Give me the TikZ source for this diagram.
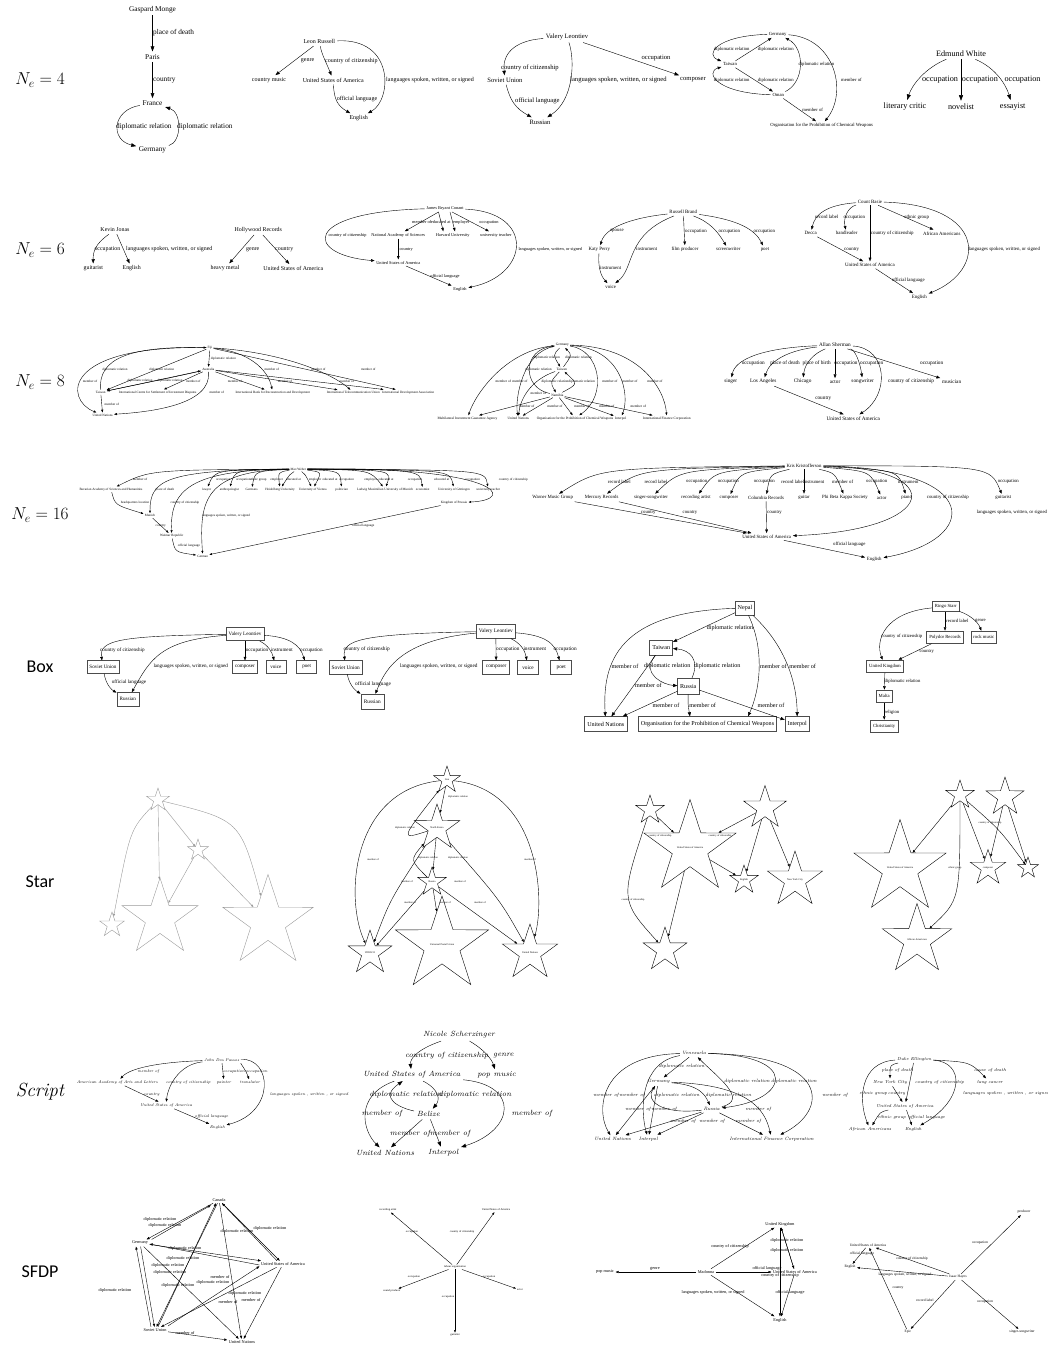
\documentclass[tikz,border=0pt]{standalone}
\usepackage{fontspec}
\setmainfont{Liberation Serif}
\newfontfamily\rowsans{Carlito}
\newfontfamily\scrfont{Latin Modern Roman}
\usetikzlibrary{arrows.meta,shapes.geometric}
\newcommand\fsz[1]{\fontsize{#1}{#1}\selectfont}
\begin{document}
\begin{tikzpicture}[x=1pt,y=-1pt,line width=0.4pt,
  e/.style={->},
  lw/.style={inner sep=0pt,anchor=west},
  lc/.style={inner sep=0pt},
  bx/.style={draw=black!70,line width=0.6pt,inner xsep=2.5pt,inner ysep=0pt,minimum height=12.5pt},
  st/.style={draw,star,star points=5,star point ratio=2.6,inner sep=0pt},
  rowlab/.style={font=\rowsans\fsz{18}},
  g1/.style={font=\fsz{#1},every node/.append style={inner sep=0.35*#1}}
]
\useasboundingbox (0,0) rectangle (1048,1346);

% ---------------- row labels
\node[font=\fsz{17}] (r1) at (40,80) {$N_e=4$};
\node[font=\fsz{17}] (r2) at (40,250) {$N_e=6$};
\node[font=\fsz{17}] (r3) at (40,382) {$N_e=8$};
\node[font=\fsz{17}] (r4) at (40,515) {$N_e=16$};
\node[rowlab] (r5) at (40,667) {Box};
\node[rowlab] (r6) at (40,882) {Star};
\node[font=\scrfont\itshape\fsz{19}] (r7) at (40,1092) {Script};
\node[rowlab] (r8) at (40,1272) {SFDP};

% ================= ROW 1
\begin{scope}[g1=7.3,>={Triangle[length=5pt,width=3.6pt]}]
\node (gm) at (152.5,9.3) {Gaspard Monge};
\node (pa) at (152.5,56.7) {Paris};
\node (fr) at (152.5,103.3) {France};
\node (ge) at (152.5,150) {Germany};
\draw[e] (gm) -- (pa); \node[lw] at (153,33) {place of death};
\draw[e] (pa) -- (fr); \node[lw] at (153,80) {country};
\draw[e] (fr) .. controls (112,110) and (110,140) .. (ge);
\node[lw] at (116,127) {diplomatic relation};
\draw[e] (ge) .. controls (182,142) and (182,112) .. (fr);
\node[lw] at (177,127) {diplomatic relation};
\end{scope}

\begin{scope}[g1=6,>={Triangle[length=4.2pt,width=3.2pt]}]
\node (lr) at (319.3,41.7) {Leon Russell};
\node (cm) at (269,80) {country music};
\node (us1) at (333.3,80) {United States of America};
\node (en1) at (358.7,118.3) {English};
\draw[e] (lr) -- (cm); \node[lw] at (300.7,61) {genre};
\draw[e] (lr) .. controls (322,55) and (326,62) .. (us1); \node[lw] at (325,61) {country of citizenship};
\draw[e] (us1) .. controls (334,100) and (338,106) .. (en1); \node[lw] at (336.7,99.5) {official language};
\draw[e] (lr) .. controls (395,38) and (392,100) .. (en1); \node[lw] at (386,80) {languages spoken, written, or signed};
\end{scope}

\begin{scope}[g1=6.6,>={Triangle[length=4.5pt,width=3.4pt]}]
\node (vl) at (567,37) {Valery Leontiev};
\node (su) at (505,80) {Soviet Union};
\node (co) at (693,80) {composer};
\node (ru) at (540,122) {Russian};
\draw[e] (vl) .. controls (520,40) and (502,50) .. (su); \node[lw] at (501,68) {country of citizenship};
\draw[e] (vl) .. controls (575,60) and (574,100) .. (ru); \node[lw] at (570,80) {languages spoken, written, or signed};
\draw[e] (su) .. controls (510,100) and (515,108) .. (ru); \node[lw] at (515,100.7) {official language};
\draw[e] (vl) -- (co); \node[lc] at (656,58) {occupation};
\end{scope}

\begin{scope}[g1=4.7,>={Triangle[length=3.6pt,width=2.7pt]}]
\node (g4) at (777.7,34) {Germany};
\node (t4) at (730,64.3) {Taiwan};
\node (o4) at (778.3,95) {Oman};
\node (op4) at (821.7,125.3) {Organisation for the Prohibition of Chemical Weapons};
\draw[e] (g4) .. controls (715,36) and (705,55) .. (t4); \node[lc] at (731.7,49.3) {diplomatic relation};
\draw[e] (t4) -- (g4); \node[lc] at (775.8,49.3) {diplomatic relation};
\draw[e] (t4) -- (o4); \node[lc] at (775.8,80) {diplomatic relation};
\draw[e] (o4) .. controls (715,93) and (705,72) .. (t4); \node[lc] at (731.7,80) {diplomatic relation};
\draw[e] (o4) .. controls (805,82) and (805,48) .. (g4); \node[lw] at (798.3,64.3) {diplomatic relation};
\draw[e] (g4) .. controls (835,38) and (848,92) .. (op4); \node[lw] at (841,80) {member of};
\draw[e] (o4) -- (op4); \node[lc] at (812.7,110) {member of};
\end{scope}

\begin{scope}[g1=8.2,>={Triangle[length=5.5pt,width=4pt]}]
\node (ew) at (961,53.3) {Edmund White};
\node (lcr) at (905,106.7) {literary critic};
\node (nv) at (961,106.7) {novelist};
\node (es) at (1012.7,106.7) {essayist};
\draw[e] (ew) .. controls (925,68) and (912,85) .. (lcr); \node[lc] at (940,80) {occupation};
\draw[e] (ew) -- (nv); \node[lw] at (961.7,80) {occupation};
\draw[e] (ew) .. controls (996,68) and (1006,85) .. (es); \node[lw] at (1004.3,80) {occupation};
\end{scope}

% ================= ROW 2
\begin{scope}[g1=5.9,>={Triangle[length=4.2pt,width=3.2pt]}]
\node (kj) at (115,230) {Kevin Jonas};
\node (gu) at (93.3,268.3) {guitarist};
\node (en2) at (131.7,268.3) {English};
\draw[e] (kj) .. controls (95,244) and (93,252) .. (gu); \node[lw] at (94.3,249.3) {occupation};
\draw[e] (kj) -- (en2); \node[lw] at (126,249.3) {languages spoken, written, or signed};
\node (hr) at (258.3,230) {Hollywood Records};
\node (hm) at (225,268.3) {heavy metal};
\node (us2) at (293.3,268.3) {United States of America};
\draw[e] (hr) -- (hm); \node[lw] at (246,249.3) {genre};
\draw[e] (hr) -- (us2); \node[lw] at (275,249.3) {country};
\end{scope}

\begin{scope}[g1=4.35,>={Triangle[length=3.4pt,width=2.6pt]}]
\node (jb) at (445,208.3) {James Bryant Conant};
\node (nas) at (398.3,235) {National Academy of Sciences};
\node (hu) at (452.7,235) {Harvard University};
\node (ut) at (496,235) {university teacher};
\node (us3) at (398.3,262.7) {United States of America};
\node (en3) at (460,289.3) {English};
\draw[e] (jb) .. controls (300,212) and (305,255) .. (us3); \node[lc] at (347.5,235) {country of citizenship};
\draw[e] (jb) -- (nas); \node[lc] at (421.7,222.3) {member of};
\draw[e] ([xshift=-6.5pt]jb.south) -- ([xshift=-9.4pt]hu.north); \node[lc] at (440.7,222.3) {educated at};
\draw[e] ([xshift=5pt]jb.south) -- ([xshift=2.3pt]hu.north); \node[lc] at (461.3,222.3) {employer};
\draw[e] (jb) -- (ut); \node[lc] at (489,222.3) {occupation};
\draw[e] (jb) .. controls (535,212) and (530,275) .. (en3); \node[lw] at (518.3,249.3) {languages spoken, written, or signed};
\draw[e] (nas) -- (us3); \node[lw] at (399.3,249.3) {country};
\draw[e] (us3) -- (en3); \node[lc] at (445,276) {official language};
\end{scope}

\begin{scope}[g1=4.9,>={Triangle[length=3.6pt,width=2.7pt]}]
\node (rb) at (683.3,212.3) {Russell Brand};
\node (kp) at (599.3,249.3) {Katy Perry};
\node (fp) at (685,249.3) {film producer};
\node (sw) at (728.3,249.3) {screenwriter};
\node (po) at (765,249.3) {poet};
\node (vo) at (610.7,286.7) {voice};
\draw[e] (rb) .. controls (630,218) and (605,228) .. (kp); \node[lc] at (617,231) {spouse};
\draw[e] (rb) .. controls (625,235) and (635,268) .. (vo); \node[lw] at (636,249.3) {instrument};
\draw[e] (rb) -- (fp); \node[lw] at (685,231) {occupation};
\draw[e] (rb) .. controls (710,222) and (718,232) .. (sw); \node[lw] at (718.3,231) {occupation};
\draw[e] (rb) .. controls (740,220) and (755,230) .. (po); \node[lw] at (753.3,231) {occupation};
\draw[e] (kp) .. controls (598,265) and (600,275) .. (vo); \node[lw] at (600,267.7) {instrument};

\node (cb) at (870,201.7) {Count Basie};
\node (dc) at (810.7,233.3) {Decca};
\node (bl) at (846.7,233.3) {bandleader};
\node (aa) at (941.7,233.3) {African Americans};
\node (us4) at (870,265) {United States of America};
\node (en4) at (919.3,297.3) {English};
\draw[e] (cb) .. controls (825,205) and (815,215) .. (dc); \node[lc] at (826.7,216.7) {record label};
\draw[e] (cb) .. controls (848,207) and (843,218) .. (bl); \node[lw] at (843.3,217.3) {occupation};
\draw[e] (cb) -- (us4); \node[lw] at (870.7,233.3) {country of citizenship};
\draw[e] (cb) -- (aa); \node[lc] at (916.7,217.3) {ethnic group};
\draw[e] (cb) .. controls (987,205) and (987,270) .. (en4); \node[lw] at (968.3,249.3) {languages spoken, written, or signed};
\draw[e] (dc) -- (us4); \node[lc] at (851.7,249.3) {country};
\draw[e] (us4) -- (en4); \node[lc] at (908.3,280.7) {official language};
\end{scope}

% ================= ROW 3
\begin{scope}[g1=3.3,>={Triangle[length=2.8pt,width=2.1pt]}]
\node (fj) at (210,347.7) {Fiji};
\node (au) at (208.3,369.3) {Australia};
\node (tw) at (100.7,392.3) {Taiwan};
\node (ic) at (157.7,392.3) {International Centre for Settlement of Investment Disputes};
\node (ib) at (272.7,392.3) {International Bank for Reconstruction and Development};
\node (itu) at (353.3,392.3) {International Telecommunication Union};
\node (ida) at (408.3,392.3) {International Development Association};
\node (un5) at (102.7,415) {United Nations};
\draw[e] (fj) -- (au); \node[lw] at (210.7,358.3) {diplomatic relation};
\draw[e] (fj) .. controls (60,345) and (65,400) .. (un5); \node[lc] at (90,381.7) {member of};
\draw[e] (tw) .. controls (98,358) and (130,346) .. (fj); \node[lc] at (115,369.7) {diplomatic relation};
\draw[e] (fj) -- (tw); \node[lc] at (161.7,369.7) {diplomatic relation};
\draw[e] (tw) -- (au); \node[lc] at (170,381) {diplomatic relation};
\draw[e] (au) .. controls (170,378) and (130,386) .. (tw); \node[lc] at (140,381) {diplomatic relation};
\draw[e] (au) -- (ic); \node[lc] at (193.3,381) {member of};
\draw[e] (au) .. controls (212,405) and (150,412) .. (un5); \node[lc] at (216.7,392.3) {member of};
\draw[e] (tw) -- (un5); \node[lc] at (111.7,404) {member of};
\draw[e] (au) -- (ib); \node[lc] at (235,381) {member of};
\draw[e] (au) -- (itu); \node[lc] at (285,381) {member of};
\draw[e] (au) -- (ida); \node[lc] at (346.7,381) {member of};
\draw[e] (fj) .. controls (250,352) and (268,370) .. (ib); \node[lc] at (271.7,369.7) {member of};
\draw[e] (fj) .. controls (280,352) and (330,372) .. (itu); \node[lc] at (318.3,369.7) {member of};
\draw[e] (fj) -- (ida); \node[lc] at (368.3,369.7) {member of};
\end{scope}

\begin{scope}[g1=3.5,>={Triangle[length=2.8pt,width=2.1pt]}]
\node (g8) at (562.3,345) {Germany};
\node (t8) at (561.7,369.3) {Taiwan};
\node (na) at (557.3,395) {Namibia};
\node (mi) at (467.5,418.3) {Multilateral Investment Guarantee Agency};
\node (un8) at (518.3,418.3) {United Nations};
\node (op8) at (575,418.3) {Organisation for the Prohibition of Chemical Weapons};
\node (ip8) at (620.7,418.3) {Interpol};
\node (ifc8) at (666.7,418.3) {International Finance Corporation};
\draw[e] (g8) .. controls (553,355) .. (t8); \node[lc] at (546.7,357.7) {diplomatic relation};
\draw[e] (t8) .. controls (572,355) .. (g8); \node[lc] at (578.3,357.7) {diplomatic relation};
\draw[e] (na) .. controls (522,388) and (522,350) .. (g8); \node[lc] at (538.3,369.3) {diplomatic relation};
\draw[e] (t8) .. controls (550,382) .. (na); \node[lc] at (555,381.7) {diplomatic relation};
\draw[e] (na) .. controls (578,384) .. (t8); \node[lc] at (581.7,381.7) {diplomatic relation};
\draw[e] (g8) .. controls (505,350) and (475,395) .. (mi); \node[lc] at (503.3,381.7) {member of};
\draw[e] (g8) .. controls (522,352) and (515,400) .. (un8); \node[lc] at (520,381.7) {member of};
\draw[e] (g8) .. controls (600,350) and (608,395) .. (op8); \node[lc] at (610,381.7) {member of};
\draw[e] (g8) .. controls (622,348) and (630,395) .. (ip8); \node[lc] at (630,381.7) {member of};
\draw[e] (g8) .. controls (640,346) and (665,390) .. (ifc8); \node[lc] at (655,381.7) {member of};
\draw[e] (t8) .. controls (530,380) and (520,400) .. (un8); \node[lc] at (538.3,393.3) {member of};
\draw[e] (na) -- (mi); \node[lc] at (526.7,406) {member of};
\draw[e] (na) -- (un8); \node[lc] at (555,406) {member of};
\draw[e] (na) -- (op8); \node[lc] at (581.7,406) {member of};
\draw[e] (na) -- (ip8); \node[lc] at (606.7,406) {member of};
\draw[e] (na) -- (ifc8); \node[lc] at (638.3,406) {member of};
\end{scope}

\begin{scope}[g1=5.26,>={Triangle[length=3.8pt,width=2.9pt]}]
\node (as) at (835,345) {Allan Sherman};
\node (si) at (730.7,381.7) {singer};
\node (la) at (763.3,381.7) {Los Angeles};
\node (ch) at (802.7,381.7) {Chicago};
\node (ac) at (835,381.7) {actor};
\node (sg) at (862.7,381.7) {songwriter};
\node (mu) at (951.7,381.7) {musician};
\node (us8) at (853.3,418.3) {United States of America};
\draw[e] (as) .. controls (760,348) and (735,360) .. (si); \node[lc] at (753.3,363.3) {occupation};
\draw[e] (as) .. controls (790,350) and (770,360) .. (la); \node[lc] at (785,363.3) {place of death};
\draw[e] (as) .. controls (815,353) and (805,362) .. (ch); \node[lc] at (816.7,363.3) {place of birth};
\draw[e] (as) -- (ac); \node[lc] at (846,363.3) {occupation};
\draw[e] (as) .. controls (855,350) and (860,362) .. (sg); \node[lc] at (871.7,363.3) {occupation};
\draw[e] (as) .. controls (888,348) and (890,395) .. (us8); \node[lw] at (888,381.7) {country of citizenship};
\draw[e] (as) -- (mu); \node[lc] at (931.7,363.3) {occupation};
\draw[e] (la) -- (us8); \node[lc] at (823.3,398.3) {country};
\end{scope}

% ================= ROW 4
\begin{scope}[g1=3.3,>={Triangle[length=2.6pt,width=2pt]}]
\node (mw) at (298.3,469) {Max Weber};
\node (ba) at (111,489.3) {Bavarian Academy of Sciences and Humanities};
\node (lwy) at (206.7,489.3) {lawyer};
\node (ant) at (229.3,489.3) {anthropologist};
\node (gms) at (251.7,489.3) {Germans};
\node (heu) at (280,489.3) {Heidelberg University};
\node (uvi) at (312.7,489.3) {University of Vienna};
\node (pol) at (341.7,489.3) {politician};
\node (lmu) at (385,489.3) {Ludwig Maximilian University of Munich};
\node (eco) at (422.7,489.3) {economist};
\node (ugo) at (454,489.3) {University of Göttingen};
\node (ute) at (488.3,489.3) {university teacher};
\node (mun) at (150,515.7) {Munich};
\node (kpr) at (454,502.7) {Kingdom of Prussia};
\node (wr) at (171.7,535.7) {Weimar Republic};
\node (gml) at (202.7,556) {German};
\draw[e] (mw) .. controls (150,470) .. (ba); \node[lc] at (140,479.3) {member of};
\draw[e] (mw) .. controls (165,470) and (150,480) .. (mun); \node[lc] at (165,489.3) {place of death};
\draw[e] (mw) .. controls (190,470) and (170,490) .. (wr); \node[lc] at (185,502.7) {country of citizenship};
\draw[e] (mw) .. controls (205,471) and (199,500) .. (gml); \node[lw] at (201.7,515.7) {languages spoken, written, or signed};
\draw[e] (mw) .. controls (500,466) and (518,500) .. (kpr); \node[lc] at (513.3,479.3) {country of citizenship};
\draw[e] (mw) .. controls (215,470) .. (lwy); \node[lc] at (223.3,479.3) {occupation};
\draw[e] (mw) .. controls (235,470) .. (ant); \node[lc] at (243.3,479.3) {occupation};
\draw[e] (mw) .. controls (255,471) .. (gms); \node[lc] at (258.3,479.3) {ethnic group};
\draw[e] (mw) .. controls (278,472) .. (heu); \node[lc] at (276.7,479.3) {employer};
\draw[e] (mw) .. controls (290,474) .. (heu); \node[lc] at (293.3,479.3) {educated at};
\draw[e] (mw) .. controls (305,474) .. (uvi); \node[lc] at (315,479.3) {employer};
\draw[e] (mw) .. controls (322,472) .. (uvi); \node[lc] at (330,479.3) {educated at};
\draw[e] (mw) .. controls (340,471) .. (pol); \node[lc] at (346.7,479.3) {occupation};
\draw[e] (mw) .. controls (370,470) .. (lmu); \node[lc] at (370.7,479.3) {employer};
\draw[e] (mw) .. controls (392,470) .. (lmu); \node[lc] at (386,479.3) {educated at};
\draw[e] (mw) .. controls (420,470) .. (eco); \node[lc] at (415,479.3) {occupation};
\draw[e] (mw) .. controls (450,470) .. (ugo); \node[lc] at (441.7,479.3) {educated at};
\draw[e] (mw) .. controls (485,470) .. (ute); \node[lc] at (472.7,479.3) {occupation};
\draw[e] (ba) .. controls (115,505) .. (mun); \node[lc] at (135,502.7) {headquarters location};
\draw[e] (mun) -- (wr); \node[lc] at (160.7,525.7) {country};
\draw[e] (wr) .. controls (175,552) .. (gml); \node[lc] at (189,545.7) {official language};
\draw[e] (kpr) -- (gml); \node[lc] at (363.3,525.7) {official language};
\end{scope}

\begin{scope}[g1=4.8,>={Triangle[length=3.6pt,width=2.7pt]}]
\node (kk) at (804,465.7) {Kris Kristofferson};
\node (wmg) at (552.7,497.7) {Warner Music Group};
\node (mer) at (601.7,497.7) {Mercury Records};
\node (ssw) at (651,497.7) {singer-songwriter};
\node (ra) at (696,497.7) {recording artist};
\node (cmp) at (729,497.7) {composer};
\node (col) at (766,497.7) {Columbia Records};
\node (gtr) at (804,497.7) {guitar};
\node (pbk) at (845,497.7) {Phi Beta Kappa Society};
\node (act) at (881.7,497.7) {actor};
\node (pia) at (906.7,497.7) {piano};
\node (gts) at (1003.3,497.7) {guitarist};
\node (us16) at (766.7,536.7) {United States of America};
\node (en16) at (874.3,559.3) {English};
\draw[e] (kk) .. controls (600,468) .. (wmg); \node[lc] at (619.3,481.7) {record label};
\draw[e] (kk) .. controls (640,469) .. (mer); \node[lc] at (656,481.7) {record label};
\draw[e] (kk) .. controls (680,470) .. (ssw); \node[lc] at (696.7,481.7) {occupation};
\draw[e] (kk) .. controls (715,471) .. (ra); \node[lc] at (728.3,481.7) {occupation};
\draw[e] (kk) .. controls (740,472) .. (cmp); \node[lc] at (764.3,481.7) {occupation};
\draw[e] (kk) .. controls (770,474) .. (col); \node[lc] at (792.7,481.7) {record label};
\draw[e] (kk) -- (gtr); \node[lc] at (814,481.7) {instrument};
\draw[e] (kk) .. controls (835,473) .. (pbk); \node[lc] at (842.7,481.7) {member of};
\draw[e] (kk) .. controls (870,471) .. (act); \node[lc] at (876.7,481.7) {occupation};
\draw[e] (kk) .. controls (898,470) .. (pia); \node[lc] at (908.3,481.7) {instrument};
\draw[e] (kk) .. controls (990,466) .. (gts); \node[lc] at (1008.3,481.7) {occupation};
\draw[e] (kk) .. controls (950,468) and (940,530) .. (us16); \node[lw] at (926.7,497.7) {country of citizenship};
\draw[e] (kk) .. controls (985,468) and (980,540) .. (en16); \node[lw] at (976.7,512.3) {languages spoken, written, or signed};
\draw[e] (wmg) -- (us16); \node[lc] at (648.3,512.3) {country};
\draw[e] (mer) -- (us16); \node[lc] at (690,512.3) {country};
\draw[e] (col) -- (us16); \node[lw] at (767,512.3) {country};
\draw[e] (us16) -- (en16); \node[lc] at (849.3,544.3) {official language};
\end{scope}

% ================= ROW 5 (Box)
\begin{scope}[g1=5.1,>={Triangle[length=3.6pt,width=2.7pt]}]
\node[bx,minimum height=13.4pt] (vb1) at (245,634) {Valery Leontiev};
\node[bx] (sb1) at (103,667) {Soviet Union};
\node[bx,minimum width=25pt] (cb1) at (245,667) {composer};
\node[bx,minimum width=20pt] (ob1) at (275.8,667) {voice};
\node[bx,minimum width=20pt] (pb1) at (306.7,667) {poet};
\node[bx,minimum width=22pt,minimum height=13.4pt] (rb1) at (127.8,699.3) {Russian};
\draw[e] (vb1) .. controls (120,636) and (99,640) .. (sb1); \node[lw] at (100,650) {country of citizenship};
\draw[e] (vb1) .. controls (160,640) and (150,660) .. (rb1); \node[lw] at (153.3,666.7) {languages spoken, written, or signed};
\draw[e] (sb1) .. controls (106,685) and (112,690) .. (rb1); \node[lw] at (111.7,682.3) {official language};
\draw[e] (vb1) -- (cb1); \node[lw] at (245.7,650) {occupation};
\draw[e] (vb1) .. controls (268,645) and (272,652) .. (ob1); \node[lw] at (270.7,650) {instrument};
\draw[e] (vb1) .. controls (290,637) and (300,645) .. (pb1); \node[lw] at (300,650) {occupation};
\end{scope}

\begin{scope}[g1=5.3,>={Triangle[length=3.7pt,width=2.8pt]}]
\node[bx,minimum height=14pt] (vb2) at (495.8,631.3) {Valery Leontiev};
\node[bx,minimum height=13.3pt] (sb2) at (345.8,667.3) {Soviet Union};
\node[bx,minimum width=27pt,minimum height=13.3pt] (cb2) at (496.2,667.3) {composer};
\node[bx,minimum width=20.5pt,minimum height=13.3pt] (ob2) at (528,667.3) {voice};
\node[bx,minimum width=21pt,minimum height=13.3pt] (pb2) at (561.2,667.3) {poet};
\node[bx,minimum width=23pt,minimum height=15pt] (rb2) at (372.3,701.5) {Russian};
\draw[e] (vb2) .. controls (360,634) and (342,640) .. (sb2); \node[lw] at (343.3,649) {country of citizenship};
\draw[e] (vb2) .. controls (400,640) and (385,670) .. (rb2); \node[lw] at (400,666.7) {languages spoken, written, or signed};
\draw[e] (sb2) .. controls (350,688) and (358,692) .. (rb2); \node[lw] at (355,684.3) {official language};
\draw[e] (vb2) -- (cb2); \node[lw] at (496,649) {occupation};
\draw[e] (vb2) .. controls (520,643) and (525,650) .. (ob2); \node[lw] at (523.3,649) {instrument};
\draw[e] (vb2) .. controls (545,635) and (555,643) .. (pb2); \node[lw] at (553.3,649) {occupation};
\end{scope}

\begin{scope}[g1=6.1,>={Triangle[length=4.2pt,width=3.2pt]}]
\node[bx,minimum height=14.3pt] (nep) at (745,608) {Nepal};
\node[bx,minimum height=15pt] (twb) at (661.2,647.5) {Taiwan};
\node[bx,minimum height=15.7pt] (rub) at (688.3,686.2) {Russia};
\node[bx,minimum height=15pt] (unb) at (605.8,724.2) {United Nations};
\node[bx,minimum height=15pt] (opb) at (707.5,724.2) {Organisation for the Prohibition of Chemical Weapons};
\node[bx,minimum height=15pt] (ipb) at (797.2,724.2) {Interpol};
\draw[e] (nep) .. controls (620,612) and (602,660) .. (unb); \node[lc] at (625,666) {member of};
\draw[e] (nep) -- (twb); \node[lc] at (730,627.7) {diplomatic relation};
\draw[e] (nep) .. controls (765,650) and (760,690) .. (opb.north -| 748,0); \node[lc] at (773.3,666) {member of};
\draw[e] (nep) .. controls (790,650) and (797,690) .. (ipb); \node[lc] at (802.7,666) {member of};
\draw[e] (twb) -- (unb); \node[lc] at (648.3,685.7) {member of};
\draw[e] (twb) .. controls (640,675) and (665,685) .. (rub); \node[lc] at (667.3,666) {diplomatic relation};
\draw[e] (rub) .. controls (700,660) and (690,650) .. (twb); \node[lc] at (717.3,666) {diplomatic relation};
\draw[e] (rub) -- (unb); \node[lc] at (666,705) {member of};
\draw[e] (rub) .. controls (688,705) .. (opb.north -| 690,0); \node[lc] at (702.7,705) {member of};
\draw[e] (rub) -- (ipb); \node[lc] at (771,705) {member of};
\end{scope}

\begin{scope}[g1=4.7,>={Triangle[length=3.4pt,width=2.6pt]}]
\node[bx,minimum height=10pt] (rs) at (945.8,606.7) {Ringo Starr};
\node[bx] (pr) at (945,637.2) {Polydor Records};
\node[bx] (rm) at (983.7,637.2) {rock music};
\node[bx] (uk) at (885,666.3) {United Kingdom};
\node[bx] (mt) at (884.2,696.2) {Malta};
\node[bx] (chr) at (884.2,726.2) {Christianity};
\draw[e] (rs) .. controls (885,612) and (875,640) .. (uk); \node[lc] at (901.7,636.7) {country of citizenship};
\draw[e] (rs.south -| pr) -- (pr); \node[lw] at (946,621) {record label};
\draw[e] (rs) .. controls (970,615) and (978,622) .. (rm); \node[lw] at (975,621) {genre};
\draw[e] (pr) -- (uk); \node[lc] at (926.7,651.7) {country};
\draw[e] (uk) -- (mt); \node[lw] at (884.5,681.7) {diplomatic relation};
\draw[e] (mt) -- (chr); \node[lw] at (884.5,712.3) {religion};
\end{scope}

% ================= ROW 6 (Star)
\begin{scope}[font=\fsz{2.5},text=black!60,>={Triangle[length=2.5pt,width=2pt]}]
\node[st,draw=black!40,minimum size=24pt] (s1a) at (158,800) {};
\node[st,draw=black!40,minimum size=22pt] (s1b) at (198,850) {};
\node[st,draw=black!40,minimum size=26pt] (s1c) at (112,925) {};
\node[st,draw=black!40,minimum size=80pt] (s1d) at (160,918) {};
\node[st,draw=black!40,minimum size=95pt] (s1e) at (268,922) {};
\draw[e,draw=black!40] (s1a) -- (s1b);
\draw[e,draw=black!40] (s1a) .. controls (130,830) .. (s1c);
\draw[e,draw=black!40] (s1a) -- (s1d);
\draw[e,draw=black!40] (s1a) .. controls (240,820) .. (s1e);
\draw[e,draw=black!40] (s1b) -- (s1e);
\draw[e,draw=black!40] (s1b) -- (s1d);
\end{scope}

\begin{scope}[font=\fsz{2.6},>={Triangle[length=2.8pt,width=2.1pt]}]
\node[st,minimum size=28pt] (ir) at (447,780) {Iran};
\node[st,minimum size=42pt] (nk) at (437,828) {North Korea};
\node[st,minimum size=30pt] (rsa) at (432,882) {Russia};
\node[st,minimum size=46pt] (une) at (370,953) {UNESCO};
\node[st,minimum size=98pt] (upu) at (442,945) {Universal Postal Union};
\node[st,minimum size=48pt] (uns) at (530,953) {United Nations};
\draw[e] (ir) -- (nk); \node[lw] at (448,797) {diplomatic relation};
\draw[e] (nk) .. controls (400,840) .. (ir); \node[lc] at (405,828) {diplomatic relation};
\draw[e] (nk) -- (rsa); \node[lc] at (458,858) {diplomatic relation};
\draw[e] (rsa) .. controls (410,860) .. (nk); \node[lc] at (428,858) {diplomatic relation};
\draw[e] (ir) .. controls (350,790) and (345,900) .. (une); \node[lc] at (373,860) {member of};
\draw[e] (ir) .. controls (540,790) and (545,900) .. (uns); \node[lc] at (530,860) {member of};
\draw[e] (rsa) -- (une); \node[lc] at (410,903) {member of};
\draw[e] (rsa) -- (upu); \node[lc] at (445,903) {member of};
\draw[e] (rsa) -- (uns); \node[lc] at (480,903) {member of};
\draw[e] (nk) .. controls (390,900) .. (une); \node[lc] at (407,882) {member of};
\draw[e] (nk) .. controls (500,900) .. (uns); \node[lc] at (460,882) {member of};
\end{scope}

\begin{scope}[font=\fsz{2.6},>={Triangle[length=2.8pt,width=2.1pt]}]
\node[st,minimum size=30pt] (t3a) at (650,810) {};
\node[st,minimum size=45pt] (t3b) at (765,808) {};
\node[st,minimum size=82pt] (t3c) at (690,848) {United States of America};
\node[st,minimum size=30pt] (t3d) at (744,880) {English};
\node[st,minimum size=42pt] (t3e) at (795,880) {New York City};
\node[st,minimum size=46pt] (t3f) at (665,950) {};
\draw[e] (t3a) -- (t3c); \node[lc] at (660,836) {country of citizenship};
\draw[e] (t3b) -- (t3c); \node[lc] at (720,836) {country of citizenship};
\draw[e] (t3b) -- (t3d); \draw[e] (t3b) -- (t3e);
\draw[e] (t3c) -- (t3d);
\draw[e] (t3a) .. controls (620,900) .. (t3f); \node[lc] at (633,900) {country of citizenship};
\draw[e] (t3c) -- (t3f);
\end{scope}

\begin{scope}[font=\fsz{2.6},>={Triangle[length=2.8pt,width=2.1pt]}]
\node[st,minimum size=30pt] (t4a) at (960,795) {};
\node[st,minimum size=40pt] (t4b) at (1005,797) {};
\node[st,minimum size=92pt] (t4c) at (900,868) {United States of America};
\node[st,minimum size=26pt] (t4d) at (988,868) {composer};
\node[st,minimum size=22pt] (t4e) at (1028,868) {};
\node[st,minimum size=46pt] (t4f) at (917,940) {African Americans};
\draw[e] (t4a) -- (t4c); \node[lc] at (990,823) {country of citizenship};
\draw[e] (t4a) -- (t4d); \draw[e] (t4b) -- (t4d); \draw[e] (t4b) -- (t4e);
\draw[e] (t4a) .. controls (1000,830) .. (t4e);
\draw[e] (t4a) .. controls (960,900) .. (t4f); \node[lc] at (955,868) {ethnic group};
\end{scope}

% ================= ROW 7 (Script)
\begin{scope}[font=\scrfont\itshape\fsz{4},every node/.append style={inner sep=1.5pt},>={Triangle[length=3pt,width=2.3pt]}]
\node (jdp) at (221.7,1060) {John Dos Passos};
\node (aal) at (117.3,1082.3) {American Academy of Arts and Letters};
\node (pas) at (224,1082.3) {painter};
\node (trs) at (250,1082.3) {translator};
\node (usj) at (166,1105.3) {United States of America};
\node (enj) at (217.3,1127.3) {English};
\draw[e] (jdp) .. controls (160,1062) and (130,1068) .. (aal); \node[lc] at (148.3,1071.7) {member of};
\draw[e] (jdp) .. controls (180,1064) and (168,1085) .. (usj); \node[lc] at (188.3,1082.3) {country of citizenship};
\draw[e] (jdp) -- (pas); \node[lw] at (223,1071.7) {occupation};
\draw[e] (jdp) .. controls (240,1063) and (246,1070) .. (trs); \node[lc] at (256.7,1071.7) {occupation};
\draw[e] (jdp) .. controls (272,1058) and (276,1112) .. (enj); \node[lw] at (270,1094.3) {languages spoken , written , or signed};
\draw[e] (aal) -- (usj); \node[lc] at (151.7,1094.3) {country};
\draw[e] (usj) -- (enj); \node[lc] at (211.7,1116) {official language};
\end{scope}

\begin{scope}[font=\scrfont\itshape\fsz{7.5},every node/.append style={inner sep=2.5pt},>={Triangle[length=5pt,width=3.8pt]}]
\node (nsc) at (459,1035) {Nicole Scherzinger};
\node (uss) at (411.7,1075) {United States of America};
\node (pms) at (496.7,1075) {pop music};
\node (bz) at (428.3,1114) {Belize};
\node (uns7) at (385,1152.7) {United Nations};
\node (ips7) at (443.3,1152.7) {Interpol};
\draw[e] (nsc) .. controls (415,1050) and (410,1060) .. (uss); \node[lc] at (446.7,1055.7) {country of citizenship};
\draw[e] (nsc) .. controls (485,1050) and (492,1060) .. (pms); \node[lw] at (493,1055.7) {genre};
\draw[e] (uss) .. controls (440,1090) and (440,1100) .. (bz); \node[lc] at (475,1095) {diplomatic relation};
\draw[e] (bz) .. controls (400,1108) and (378,1098) .. (uss); \node[lc] at (405.7,1095) {diplomatic relation};
\draw[e] (uss) .. controls (355,1095) and (362,1130) .. (uns7); \node[lc] at (381.7,1114) {member of};
\draw[e] (bz) -- (uns7); \node[lc] at (410,1133.3) {member of};
\draw[e] (bz) -- (ips7); \node[lc] at (450,1133.3) {member of};
\draw[e] (uss) .. controls (520,1085) and (515,1130) .. (ips7); \node[lc] at (531.7,1114) {member of};
\end{scope}

\begin{scope}[font=\scrfont\itshape\fsz{4.7},every node/.append style={inner sep=2pt},>={Triangle[length=3.6pt,width=2.7pt]}]
\node (vz) at (694,1053.3) {Venezuela};
\node (gyv) at (658.3,1081.7) {Germany};
\node (rsv) at (711.7,1109) {Russia};
\node (unv) at (612.7,1139) {United Nations};
\node (ipv) at (648.3,1139) {Interpol};
\node (ifv) at (771.7,1139) {International Finance Corporation};
\draw[e] (vz) -- (gyv); \node[lc] at (681.7,1066.7) {diplomatic relation};
\draw[e] (vz) .. controls (800,1055) and (790,1100) .. (rsv); \node[lc] at (794,1081.7) {diplomatic relation};
\draw[e] (rsv) .. controls (750,1100) and (715,1075) .. (vz); \node[lc] at (747,1081.7) {diplomatic relation};
\draw[e] (gyv) .. controls (700,1085) and (705,1095) .. (rsv); \node[lc] at (728.3,1095) {diplomatic relation};
\draw[e] (rsv) .. controls (660,1115) and (645,1100) .. (gyv); \node[lc] at (676.7,1095) {diplomatic relation};
\draw[e] (vz) .. controls (600,1055) and (595,1110) .. (unv); \node[lc] at (606,1095) {member of};
\draw[e] (vz) .. controls (640,1062) and (640,1110) .. (ipv); \node[lc] at (632,1095) {member of};
\draw[e] (vz) .. controls (830,1055) and (830,1110) .. (ifv); \node[lc] at (835,1095) {member of};
\draw[e] (gyv) -- (unv); \node[lc] at (638,1109) {member of};
\draw[e] (gyv) -- (ipv); \node[lc] at (664,1109) {member of};
\draw[e] (gyv) .. controls (750,1085) and (765,1110) .. (ifv); \node[lc] at (758.3,1109) {member of};
\draw[e] (rsv) -- (unv); \node[lc] at (683,1121.7) {member of};
\draw[e] (rsv) -- (ipv); \node[lc] at (712,1121.7) {member of};
\draw[e] (rsv) -- (ifv); \node[lc] at (748.3,1121.7) {member of};
\end{scope}

\begin{scope}[font=\scrfont\itshape\fsz{4.4},every node/.append style={inner sep=1.8pt},>={Triangle[length=3.3pt,width=2.5pt]}]
\node (dke) at (914.3,1059) {Duke Ellington};
\node (nyc) at (890,1082.3) {New York City};
\node (lca) at (990,1082.3) {lung cancer};
\node (usd) at (905,1106) {United States of America};
\node (aad) at (870,1129.3) {African Americans};
\node (end) at (913.3,1129.3) {English};
\draw[e] (dke) .. controls (890,1065) .. (nyc); \node[lw] at (881.7,1070.7) {place of death};
\draw[e] (dke) .. controls (970,1062) .. (lca); \node[lc] at (990,1070) {cause of death};
\draw[e] (dke) -- (usd); \node[lw] at (915,1082.3) {country of citizenship};
\draw[e] (dke) .. controls (860,1062) and (858,1100) .. (aad); \node[lc] at (873.3,1093.3) {ethnic group};
\draw[e] (dke) .. controls (965,1062) and (965,1100) .. (end); \node[lw] at (963,1093.3) {languages spoken , written , or signed};
\draw[e] (nyc) -- (usd); \node[lc] at (896.7,1093.3) {country};
\draw[e] (usd) .. controls (880,1112) .. (aad); \node[lc] at (891.7,1117.7) {ethnic group};
\draw[e] (usd) -- (end); \node[lc] at (926.7,1117.7) {official language};
\end{scope}

% ================= ROW 8 (SFDP)
\begin{scope}[font=\fsz{4.3},every node/.append style={inner sep=1.5pt},>={Triangle[length=3pt,width=2.3pt]}]
\node (ca) at (219,1200) {Canada};
\node (gsf) at (140,1243) {Germany};
\node (usf) at (283,1264) {United States of America};
\node (suf) at (155,1330) {Soviet Union};
\node (unf) at (242,1342) {United Nations};
\draw[e] (ca) -- (gsf); \node[lc] at (160,1219) {diplomatic relation};
\draw[e] ([xshift=2pt]gsf.north east) -- ([yshift=-2pt]ca.south west); \node[lc] at (165,1225) {diplomatic relation};
\draw[e] (ca) -- (usf); \node[lc] at (237,1231) {diplomatic relation};
\draw[e] ([xshift=-6pt]usf.north) -- ([xshift=3pt]ca.south); \node[lc] at (270,1228) {diplomatic relation};
\draw[e] (gsf) -- (usf); \node[lc] at (185,1248) {diplomatic relation};
\draw[e] ([yshift=-1pt]usf.west) -- ([yshift=-1pt]gsf.east); \node[lc] at (183,1258) {diplomatic relation};
\draw[e] (ca) -- (suf); \node[lc] at (168,1265) {diplomatic relation};
\draw[e] ([xshift=3pt]suf.north) -- ([xshift=-3pt]ca.south); \node[lc] at (170,1272) {diplomatic relation};
\draw[e] (gsf) -- (suf); \node[lc] at (115,1290) {diplomatic relation};
\draw[e] ([xshift=-4pt]suf.north) -- ([xshift=-4pt]gsf.south); \node[lc] at (178,1285) {diplomatic relation};
\draw[e] (usf) -- (suf); \node[lc] at (213,1282) {diplomatic relation};
\draw[e] ([yshift=1pt]suf.north east) -- ([yshift=1pt]usf.south west); \node[lc] at (245,1293) {diplomatic relation};
\draw[e] (ca) -- (unf); \node[lc] at (220,1277) {member of};
\draw[e] (gsf) -- (unf); \node[lc] at (228,1302) {member of};
\draw[e] (usf) -- (unf); \node[lc] at (251,1300) {member of};
\draw[e] (suf) -- (unf); \node[lc] at (185,1333) {member of};
\end{scope}

\begin{scope}[font=\fsz{2.8},every node/.append style={inner sep=1pt},>={Triangle[length=2.5pt,width=1.9pt]}]
\node (cx) at (455,1267) {labour organization};
\node (x1) at (388,1210) {recording artist};
\node (x2) at (496,1210) {United States of America};
\node (x3) at (392,1291) {sound producer};
\node (x4) at (520,1290) {actor};
\node (x5) at (455,1335) {guitarist};
\draw[e] (cx) -- (x1); \node[lc] at (412,1232) {occupation};
\draw[e] (cx) -- (x2); \node[lc] at (462,1232) {country of citizenship};
\draw[e] (cx) -- (x3); \node[lc] at (414,1277) {occupation};
\draw[e] (cx) -- (x4); \node[lc] at (489,1277) {occupation};
\draw[e] (cx) -- (x5); \node[lc] at (448,1297) {occupation};
\end{scope}

\begin{scope}[font=\fsz{4.3},every node/.append style={inner sep=1.5pt},>={Triangle[length=3pt,width=2.3pt]}]
\node (mad) at (706,1272) {Madonna};
\node (pop) at (605,1272) {pop music};
\node (ukf) at (780,1224) {United Kingdom};
\node (usm) at (795,1272) {United States of America};
\node (enm) at (780,1320) {English};
\draw[e] (mad) -- (pop); \node[lc] at (655,1269) {genre};
\draw[e] (mad) -- (ukf); \node[lc] at (730,1246) {country of citizenship};
\draw[e] (mad) -- (usm); \node[lc] at (780,1275) {country of citizenship};
\draw[e] (mad) -- (enm); \node[lc] at (713,1292) {languages spoken, written, or signed};
\draw[e] (ukf) -- (usm); \node[lc] at (787,1240) {diplomatic relation};
\draw[e] (usm) -- (ukf); \node[lc] at (787,1250) {diplomatic relation};
\draw[e] (ukf) -- (enm); \node[lc] at (767,1268) {official language};
\draw[e] (usm) -- (enm); \node[lc] at (790,1292) {official language};
\end{scope}

\begin{scope}[font=\fsz{3.6},every node/.append style={inner sep=1.3pt},>={Triangle[length=2.8pt,width=2.1pt]}]
\node (ih) at (958,1277) {Isaac Hayes};
\node (pdr) at (1024,1212) {producer};
\node (us9) at (868,1245) {United States of America};
\node (en9) at (850,1267) {English};
\node (epc) at (908,1332) {Epic};
\node (ssg) at (1022,1332) {singer-songwriter};
\draw[e] (ih) -- (pdr); \node[lc] at (980,1243) {occupation};
\draw[e] (ih) -- (us9); \node[lc] at (912,1259) {country of citizenship};
\draw[e] (us9) -- (en9); \node[lc] at (862,1254) {official language};
\draw[e] (ih) -- (en9); \node[lc] at (905,1275) {languages spoken, written, or signed};
\draw[e] (ih) -- (epc); \node[lc] at (925,1300) {record label};
\draw[e] (epc) -- (us9); \node[lc] at (898,1288) {country};
\draw[e] (ih) -- (ssg); \node[lc] at (985,1302) {occupation};
\end{scope}
\end{tikzpicture}
\end{document}
